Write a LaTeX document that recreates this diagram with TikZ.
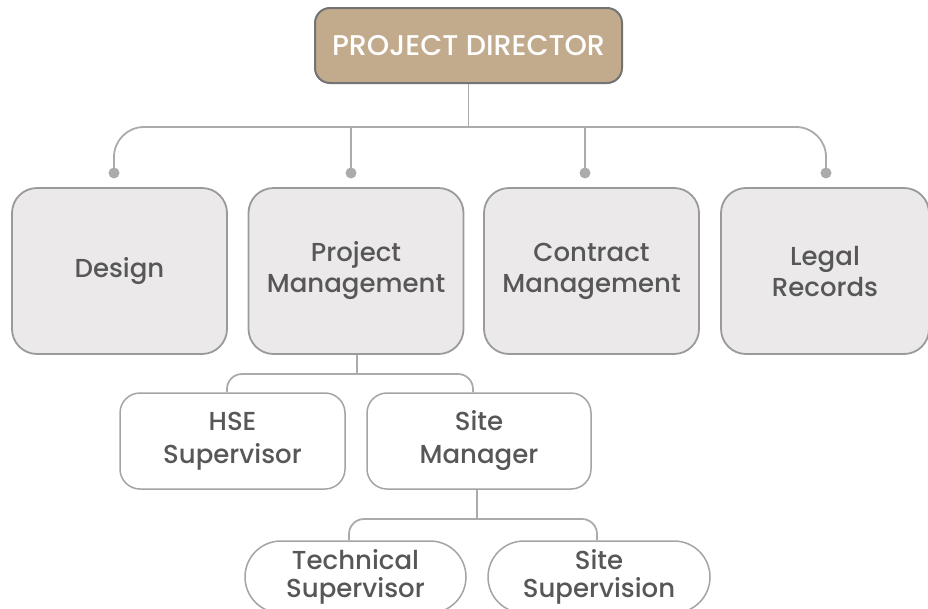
\documentclass[tikz,border=0pt]{standalone}
\usepackage{fontspec}
\setmainfont{Poppins}[UprightFont={* Medium}]
\usetikzlibrary{positioning}
\definecolor{tan}{HTML}{C2AA8C}
\definecolor{boxgray}{HTML}{EBE9EA}
\definecolor{edgegray}{HTML}{9A9A9A}
\definecolor{linkgray}{HTML}{ABABAB}
\definecolor{txtgray}{HTML}{575757}
\begin{document}
\begin{tikzpicture}[x=1pt, y=-1pt,
  font=\fontsize{26}{31}\selectfont, text=txtgray,
  head/.style={draw=gray!110, line width=2pt, fill=tan, rounded corners=15pt,
               minimum width=307pt, minimum height=75pt, text=white, align=center,
               inner sep=0pt, font=\fontsize{28.5}{30}\selectfont},
  dept/.style={draw=edgegray, line width=1.8pt, fill=boxgray, rounded corners=25pt,
               minimum width=215pt, minimum height=166pt, align=center, inner sep=0pt},
  unit/.style={draw=edgegray!90, line width=1.5pt, fill=white, rounded corners=20pt,
               minimum width=224pt, minimum height=96pt, align=center, inner sep=0pt,
               font=\fontsize{26}{33}\selectfont},
  crew/.style={draw=edgegray!90, line width=1.5pt, fill=white, rounded corners=36pt,
               minimum width=221pt, minimum height=72pt, align=center, inner sep=0pt,
               font=\fontsize{26}{28}\selectfont},
  link/.style={draw=linkgray, line width=1.8pt},
  dot/.style={circle, fill=linkgray, minimum size=11pt, inner sep=0pt}]
\useasboundingbox (0,0) rectangle (928,608);
% top of the chart
\node[head] (dir) at (468.5,45.5) {PROJECT DIRECTOR};
% departments
\node[dept] (design) at (119.5,271) {Design};
\node[dept] (pm) at (356,271) {Project\\Management};
\node[dept] (contract) at (591.5,271) {Contract\\Management};
\node[dept, minimum width=208pt] (legal) at (825,271) {Legal\\Records};
% connection dots above the departments
\node[dot] (d1) at (114,173) {};
\node[dot] (d2) at (351,173) {};
\node[dot] (d3) at (585,173) {};
\node[dot] (d4) at (826,173) {};
% bus from director to departments
\draw[link] (dir.south) -- (dir.south |- 0,127);
\draw[link, rounded corners=30pt] (d1.center) |- (dir.south |- 0,127) -| (d4.center);
\draw[link] (d2.center) -- (d2.center |- 0,127);
\draw[link] (d3.center) -- (d3.center |- 0,127);
% units under project management
\node[unit, minimum width=225pt] (hse) at (232.5,441) {HSE\\Supervisor};
\node[unit] (sm) at (479,441) {Site\\Manager};
\draw[link] (pm.south -| 357,0) -- (357,374);
\draw[link, rounded corners=15pt] (hse.north -| 227,0) |- (357,374) -| (sm.north -| 473,0);
% crews under the site manager
\node[crew] (tech) at (355.5,577) {Technical\\Supervisor};
\node[crew, minimum width=222pt] (sup) at (599,577) {Site\\Supervision};
\draw[link] (sm.south -| 477,0) -- (477,519);
\draw[link, rounded corners=15pt] (tech.north -| 349,0) |- (477,519) -| (sup.north -| 597,0);
\end{tikzpicture}
\end{document}
